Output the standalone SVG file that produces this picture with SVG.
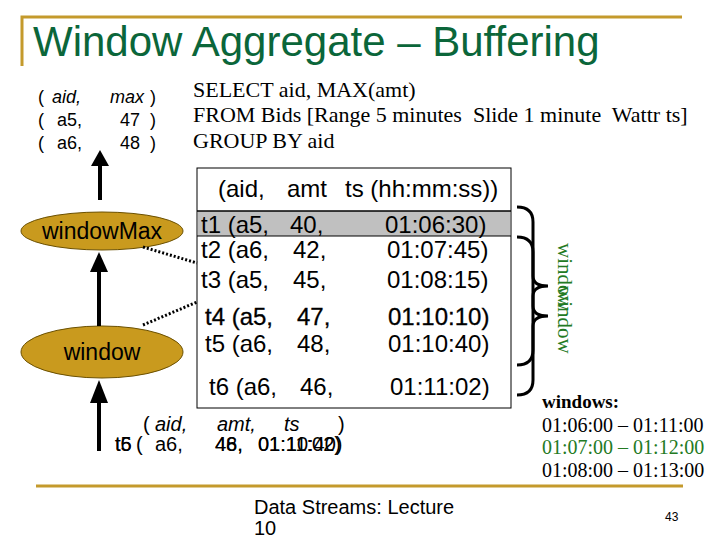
<svg xmlns="http://www.w3.org/2000/svg" width="720" height="540" viewBox="0 0 720 540">
<style>
.s{font-family:"Liberation Sans",Arial,sans-serif;fill:#000}
.r{font-family:"Liberation Serif","Times New Roman",serif;fill:#000;white-space:pre}
.i{font-style:italic}
.gold{stroke:#c49a2c;stroke-width:3;fill:none}
.node{fill:#c99a1e;stroke:#6b5000;stroke-width:1}
.dot{stroke:#000;stroke-width:3;stroke-dasharray:2 2;fill:none}
.brace{stroke:#000;stroke-width:3;fill:none}
.arr{stroke:#000;stroke-width:4}
.g{fill:#237a23}
</style>
<rect width="720" height="540" fill="#fff"/>
<g id="frame">
<path class="gold" d="M22,66 V17 H682"/>
<path class="gold" d="M36,486 H683"/>
</g>
<text class="s" x="33" y="56" font-size="42" style="fill:#0b663a">Window Aggregate – Buffering</text>
<g id="output" class="s" font-size="18">
<text x="38" y="103">(</text><text class="s i" x="52" y="103">aid,</text><text class="s i" x="110" y="103">max</text><text x="150" y="103">)</text>
<text x="38" y="126">(</text><text x="57" y="126">a5,</text><text x="120" y="126">47</text><text x="150" y="126">)</text>
<text x="38" y="149">(</text><text x="57" y="149">a6,</text><text x="120" y="149">48</text><text x="150" y="149">)</text>
</g>
<g id="query" class="r" font-size="22">
<text x="193" y="97" xml:space="preserve">SELECT aid, MAX(amt)</text>
<text x="193" y="122" xml:space="preserve">FROM Bids [Range 5 minutes  Slide 1 minute  Wattr ts]</text>
<text x="193" y="148" xml:space="preserve">GROUP BY aid</text>
</g>
<g id="buffer">
<rect x="197" y="168" width="314" height="240" fill="#fff" stroke="#000" stroke-width="1"/>
<rect x="198" y="211" width="312" height="25" fill="#c0c0c0"/>
<line x1="197" y1="211" x2="511" y2="211" stroke="#000" stroke-width="1.5"/>
<line x1="197" y1="236" x2="511" y2="236" stroke="#000" stroke-width="1"/>
<g class="s" font-size="24">
<text x="218" y="197">(aid,</text><text x="287" y="197">amt</text><text x="345" y="197">ts (hh:mm:ss))</text>
<text x="201" y="233">t1 (a5,</text><text x="290" y="233">40,</text><text x="385" y="233">01:06:30)</text>
<text x="201" y="258">t2 (a6,</text><text x="293" y="258">42,</text><text x="387" y="258">01:07:45)</text>
<text x="201" y="288">t3 (a5,</text><text x="293" y="288">45,</text><text x="387" y="288">01:08:15)</text>
<g stroke="#000" stroke-width="0.3"><text x="205" y="325">t4 (a5,</text><text x="297" y="325">47,</text><text x="388" y="325">01:10:10)</text></g>
<text x="205" y="352">t5 (a6,</text><text x="297" y="352">48,</text><text x="388" y="352">01:10:40)</text>
<text x="209" y="395">t6 (a6,</text><text x="300" y="395">46,</text><text x="390" y="395">01:11:02)</text>
</g>
</g>
<g id="windowMax">
<ellipse class="node" cx="102" cy="231" rx="81" ry="19"/>
<text class="s" x="102" y="239" font-size="23" text-anchor="middle">windowMax</text>
</g>
<g id="window">
<ellipse class="node" cx="102" cy="352" rx="81" ry="26"/>
<text class="s" x="102" y="360" font-size="23" text-anchor="middle">window</text>
</g>
<g id="connectors">
<line class="arr" x1="100" y1="200" x2="100" y2="166"/>
<path d="M91,166 L100,150 L109,166 z"/>
<line class="arr" x1="99" y1="326" x2="99" y2="271"/>
<path d="M90,272 L99,252 L108,272 z"/>
<line class="arr" x1="99" y1="451" x2="99" y2="402"/>
<path d="M90,403 L99,380 L108,403 z"/>
<line class="dot" x1="143" y1="247" x2="197" y2="263"/>
<line class="dot" x1="143" y1="325" x2="197" y2="302"/>
<path class="brace" d="M517,207 Q533,207 533,222 L533,276 Q533,286 548,286 Q533,286 533,296 L533,350 Q533,365 517,365"/>
<path class="brace" d="M517,237 Q533,237 533,252 L533,306 Q533,316 548,316 Q533,316 533,326 L533,380 Q533,395 517,395"/>
</g>
<g id="windowLabel" class="r" font-size="21">
<text class="r g" transform="translate(558,243) rotate(90)">window</text>
<text class="r g" transform="translate(558,286) rotate(90)">window</text>
</g>
<g id="windows" class="r">
<text x="542" y="408" font-size="19" font-weight="bold">windows:</text>
<text x="542" y="432" font-size="20">01:06:00 – 01:11:00</text>
<text class="r g" x="542" y="454" font-size="20">01:07:00 – 01:12:00</text>
<text x="542" y="477" font-size="20">01:08:00 – 01:13:00</text>
</g>
<g id="input" class="s" font-size="20">
<text x="143" y="431">(</text><text class="s i" x="155" y="431">aid,</text><text class="s i" x="217" y="431">amt,</text><text class="s i" x="284" y="431">ts</text><text x="338" y="431">)</text>
<text x="115" y="451">t5</text><text x="115" y="451">t6</text><text x="136" y="451">(</text><text x="155" y="451">a6,</text><text x="215" y="451">48,</text><text x="215" y="451">46,</text><text x="258" y="451">01:10:40)</text><text x="258" y="451">01:11:02)</text>
</g>
<g id="footer" class="s">
<text x="254" y="514" font-size="20">Data Streams: Lecture</text>
<text x="254" y="535" font-size="20">10</text>
<text x="665" y="521" font-size="12">43</text>
</g>
</svg>
